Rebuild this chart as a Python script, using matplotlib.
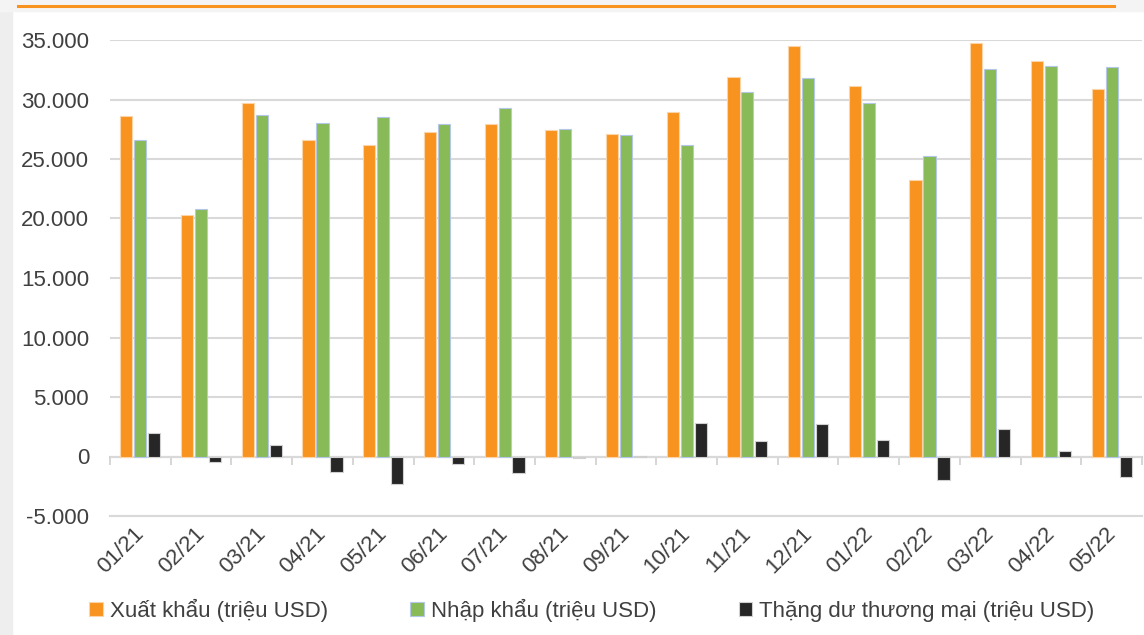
import matplotlib.pyplot as plt
import numpy as np
from matplotlib.patches import Rectangle
from matplotlib.lines import Line2D
from matplotlib.transforms import ScaledTranslation

plt.rcParams['font.family'] = ['Liberation Sans', 'DejaVu Sans']

months = ['01/21', '02/21', '03/21', '04/21', '05/21', '06/21', '07/21', '08/21', '09/21',
          '10/21', '11/21', '12/21', '01/22', '02/22', '03/22', '04/22', '05/22']
xuat_khau = [28600, 20300, 29700, 26600, 26200, 27300, 27900, 27400, 27100,
             28950, 31900, 34500, 31150, 23250, 34750, 33230, 30900]
nhap_khau = [26600, 20800, 28700, 28000, 28500, 27900, 29300, 27500, 27050,
             26200, 30640, 31770, 29710, 25280, 32550, 32800, 32700]
thang_du = [1950, -500, 1000, -1300, -2300, -600, -1400, -100, 80,
            2800, 1300, 2700, 1400, -2000, 2300, 450, -1700]

labels = ['Xuất khẩu (triệu USD)', 'Nhập khẩu (triệu USD)', 'Thặng dư thương mại (triệu USD)']
colors = ['#F7931E', '#88BA58', '#262626']
edges = ['#FBD5A8', '#B4C7E7', '#D0D0D0']
text_color = '#404040'

x = np.arange(len(months))
width = 0.2
step = 0.23

fig = plt.figure(figsize=(11.44, 6.35), dpi=100, facecolor='white')
# nen xam ben trai va phia tren + vach cam
fig.add_artist(Rectangle((0, 0), 12 / 1144, 1, transform=fig.transFigure, color='#EEEEEE', zorder=0))
fig.add_artist(Rectangle((0, 1 - 11 / 635), 1, 11 / 635, transform=fig.transFigure, color='#F4F4F4', zorder=0))
fig.add_artist(Line2D([18 / 1144, 1114 / 1144], [1 - 6 / 635, 1 - 6 / 635], transform=fig.transFigure,
                      color='#F7931E', lw=2.2))

ax = fig.add_axes([110 / 1144, 1 - 516 / 635, 1032 / 1144, 476 / 635])
series = [xuat_khau, nhap_khau, thang_du]
for i, vals in enumerate(series):
    ax.bar(x + (i - 1) * step, vals, width, color=colors[i], edgecolor=edges[i], linewidth=0.8,
           label=labels[i], zorder=3)

ax.set_xlim(-0.5, len(months) - 0.5)
ax.set_ylim(-5000, 35000)
ax.set_yticks(np.arange(-5000, 35001, 5000))
ax.set_yticklabels([f'{v:,}'.replace(',', '.') for v in range(-5000, 35001, 5000)])
ax.yaxis.grid(True, color='#D9D9D9', lw=1.5, zorder=0)
ax.tick_params(axis='y', length=0, pad=15, labelsize=16, labelcolor=text_color)

ax.set_xticks(x)
ax.set_xticklabels(months, rotation=45, ha='right', rotation_mode='anchor')
ax.tick_params(axis='x', length=0, pad=5, labelsize=16, labelcolor=text_color)
shift = ScaledTranslation(-7 / 100, 0, fig.dpi_scale_trans)
for lb in ax.get_xticklabels():
    lb.set_transform(lb.get_transform() + shift)
for s in ['top', 'right', 'left']:
    ax.spines[s].set_visible(False)
ax.spines['bottom'].set_color('#D9D9D9')
ax.spines['bottom'].set_linewidth(1.5)

# truc tai 0 voi vach chia giua cac thang
sec = ax.secondary_xaxis(5000 / 40000)
sec.set_xticks(np.arange(-0.5, len(months), 1.0))
sec.set_xticklabels([])
sec.tick_params(axis='x', direction='out', length=6, width=1.2, color='#D0D0D0')
sec.spines['bottom'].set_color('#D0D0D0')
sec.spines['bottom'].set_linewidth(1.5)

fig.legend(loc='center', bbox_to_anchor=(0.5175, 1 - 610 / 635), ncol=3, frameon=False,
           fontsize=16, handlelength=0.6, handleheight=0.6, handletextpad=0.33,
           columnspacing=3.7, labelcolor=text_color)

plt.savefig('out.png', dpi=100)
